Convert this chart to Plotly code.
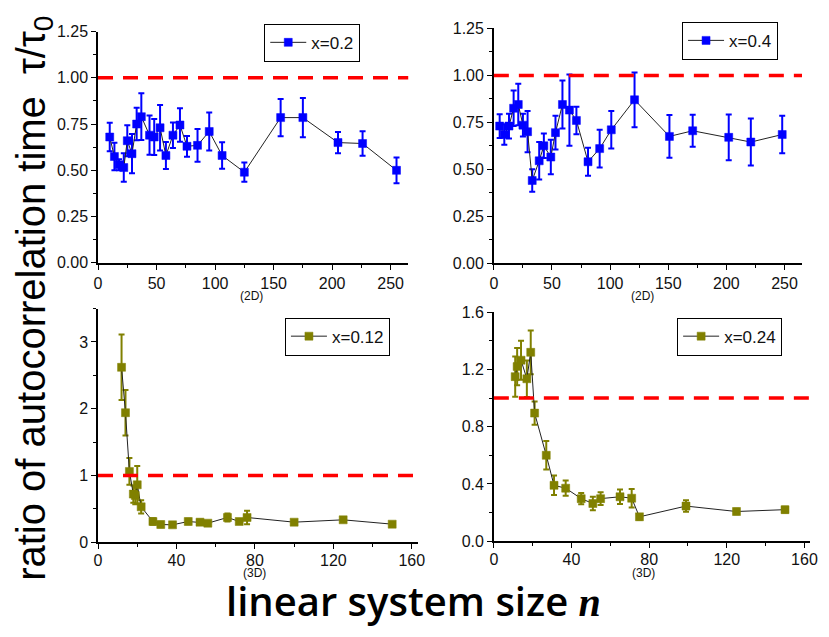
import plotly.graph_objects as go

# ---------------- data ----------------
# 2D, x=0.2
n_2d_a = [10, 14, 18, 22, 25, 29, 33, 37, 44, 48, 53, 58, 64, 70, 76, 85, 95, 106, 125, 156, 175, 205, 226, 255]
r_2d_a = [0.68, 0.575, 0.53, 0.515, 0.66, 0.59, 0.75, 0.79, 0.69, 0.68, 0.73, 0.58, 0.69, 0.745, 0.63, 0.635, 0.71, 0.58, 0.49, 0.785, 0.785, 0.65, 0.645, 0.50]
e_2d_a = [0.077, 0.074, 0.03, 0.077, 0.084, 0.106, 0.088, 0.126, 0.106, 0.097, 0.123, 0.073, 0.069, 0.09, 0.056, 0.088, 0.103, 0.072, 0.052, 0.101, 0.106, 0.057, 0.066, 0.07]

# 2D, x=0.4
n_2d_b = [5, 9, 13, 17, 21, 25, 29, 33, 39, 43, 49, 53, 59, 65, 71, 81, 91, 101, 121, 151, 171, 202, 221, 248]
r_2d_b = [0.73, 0.685, 0.73, 0.825, 0.845, 0.735, 0.70, 0.44, 0.545, 0.625, 0.565, 0.695, 0.845, 0.815, 0.76, 0.54, 0.61, 0.71, 0.87, 0.675, 0.705, 0.67, 0.645, 0.685]
e_2d_b = [0.063, 0.055, 0.066, 0.095, 0.11, 0.06, 0.11, 0.06, 0.10, 0.065, 0.092, 0.09, 0.128, 0.19, 0.073, 0.075, 0.10, 0.10, 0.146, 0.114, 0.085, 0.122, 0.125, 0.10]

# 3D, x=0.12
n_3d_a = [12, 14, 16, 18, 19, 20, 22, 28, 32, 38, 46, 52, 56, 66, 72, 76, 100, 125, 150]
r_3d_a = [2.62, 1.94, 1.06, 0.72, 0.70, 0.86, 0.53, 0.31, 0.265, 0.26, 0.31, 0.30, 0.285, 0.37, 0.31, 0.37, 0.30, 0.335, 0.27]
e_3d_a = [0.49, 0.34, 0.20, 0.13, 0.13, 0.28, 0.10, 0.05, 0.04, 0.03, 0.04, 0.04, 0.03, 0.06, 0.03, 0.10, 0.03, 0.03, 0.03]

# 3D, x=0.24
n_3d_b = [11, 12, 14, 17, 19, 21, 27, 31, 37, 45, 51, 55, 65, 71, 75, 99, 125, 150]
r_3d_b = [1.15, 1.22, 1.265, 1.135, 1.32, 0.895, 0.60, 0.39, 0.37, 0.297, 0.263, 0.297, 0.31, 0.30, 0.17, 0.245, 0.207, 0.22]
e_3d_b = [0.14, 0.13, 0.136, 0.127, 0.153, 0.082, 0.10, 0.068, 0.053, 0.04, 0.048, 0.045, 0.05, 0.065, 0.02, 0.04, 0.02, 0.02]

reference_ratio = 1.0

labels = ["x=0.2", "x=0.4", "x=0.12", "x=0.24"]
dims = ["(2D)", "(2D)", "(3D)", "(3D)"]

# ---------------- figure ----------------
OFF = 8  # page body margin
W, H = 829 - OFF, 637 - OFF
BLUE = "#0000FF"
OLIVE = "#808000"
TICKFONT = dict(family="Liberation Sans, Arial", size=16, color="#111")

fig = go.Figure()

series = [
    (n_2d_a, r_2d_a, e_2d_a, BLUE, "x", "y", "legend"),
    (n_2d_b, r_2d_b, e_2d_b, BLUE, "x2", "y2", "legend2"),
    (n_3d_a, r_3d_a, e_3d_a, OLIVE, "x3", "y3", "legend3"),
    (n_3d_b, r_3d_b, e_3d_b, OLIVE, "x4", "y4", "legend4"),
]
for (nx, ry, ey, col, xa, ya, lg), lab in zip(series, labels):
    fig.add_trace(go.Scatter(
        x=nx, y=ry, mode="lines+markers", name=lab,
        xaxis=xa, yaxis=ya, legend=lg,
        line=dict(color="#222", width=1),
        marker=dict(symbol="square", size=8, color=col, line=dict(color=col, width=0.5)),
        error_y=dict(type="data", array=ey, visible=True, color=col, thickness=2, width=3),
    ))


def px_x(p):
    return (p - OFF) / W


def px_y(p):
    return 1 - (p - OFF) / H


axes_spec = [
    # xdom px, ydom px (top, bottom), xrange, yrange, xdtick, ydtick, yfmt
    ((95.3, 410.1), (24.0, 261.7), [0, 265], [0, 1.25], 50, 0.25, ".2f"),
    ((497.0, 809.7), (20.8, 262.0), [0, 265], [0, 1.25], 50, 0.25, ".2f"),
    ((95.3, 419.7), (308.7, 548.8), [0, 163], [0, 3.5], 40, 1, "d"),
    ((497.0, 818.1), (312.5, 547.7), [0, 163], [0, 1.6], 40, 0.4, ".1f"),
]
dim_pos = [(251, 296), (648, 296), (254, 580), (649, 580)]

layout = dict(
    width=W, height=H, autosize=False,
    margin=dict(l=0, r=0, t=0, b=0),
    paper_bgcolor="white", plot_bgcolor="white",
    showlegend=True,
)
for i, (xd, yd, xr, yr, xdt, ydt, yfmt) in enumerate(axes_spec):
    sfx = "" if i == 0 else str(i + 1)
    common = dict(showline=True, linecolor="black", linewidth=1.5, ticks="outside",
                  ticklen=5, tickwidth=1.2, tickcolor="black", showgrid=False,
                  zeroline=False, tickfont=TICKFONT, mirror=False)
    layout["xaxis" + sfx] = dict(
        domain=[px_x(xd[0]), px_x(xd[1])], range=xr, dtick=xdt, tick0=0,
        anchor="y" + sfx, ticklabelstandoff=(-2 if i >= 2 else 0),
        minor=dict(dtick=xdt / 2, ticks="outside", ticklen=3, tickcolor="black"),
        **common)
    layout["yaxis" + sfx] = dict(
        domain=[px_y(yd[1]), px_y(yd[0])], range=yr, dtick=ydt, tick0=0,
        anchor="x" + sfx, tickformat=yfmt,
        minor=dict(dtick=ydt / 2, ticks="outside", ticklen=3, tickcolor="black"),
        **common)

legend_pos = [(264, 16), (688, 14), (285, 318), (683, 318)]
for i, (lx, ly) in enumerate(legend_pos):
    key = "legend" if i == 0 else "legend" + str(i + 1)
    layout[key] = dict(
        x=px_x(lx), y=px_y(ly), xanchor="left", yanchor="top",
        bgcolor="white", bordercolor="black", borderwidth=1,
        font=dict(family="Liberation Sans, Arial", size=17, color="#111"),
        itemwidth=36, tracegroupgap=0,
    )

fig.update_layout(**layout)

# red dashed reference lines at ratio = 1
for i in range(4):
    sfx = "" if i == 0 else str(i + 1)
    fig.add_shape(type="line", xref=("x" + sfx) + " domain", yref="y" + sfx,
                  x0=0, x1=1, y0=reference_ratio, y1=reference_ratio,
                  line=dict(color="#FF0000", width=3.5, dash="15px,10px"))

# dimension labels under each panel
for i, (dx, dy) in enumerate(dim_pos):
    fig.add_annotation(text=dims[i], xref="paper", yref="paper",
                       x=px_x(dx), y=px_y(dy),
                       xanchor="center", yanchor="middle",
                       showarrow=False, font=dict(family="Liberation Sans, Arial", size=12, color="#111"))

# axis titles
fig.add_annotation(text="ratio of autocorrelation time  τ/τ<sub>0</sub>",
                   xref="paper", yref="paper", x=px_x(30), y=px_y(298),
                   xanchor="center", yanchor="middle",
                   textangle=-90, showarrow=False,
                   font=dict(family="Liberation Sans, Arial", size=40, color="black"))
fig.add_annotation(text="linear system size <span style='font-family:Liberation Serif;font-weight:bold;font-style:italic'>n</span>",
                   xref="paper", yref="paper", x=px_x(415), y=px_y(609),
                   xanchor="center", yanchor="middle",
                   showarrow=False,
                   font=dict(family="Open Sans", size=40, color="black", weight=600))

fig.write_html("out.html")
